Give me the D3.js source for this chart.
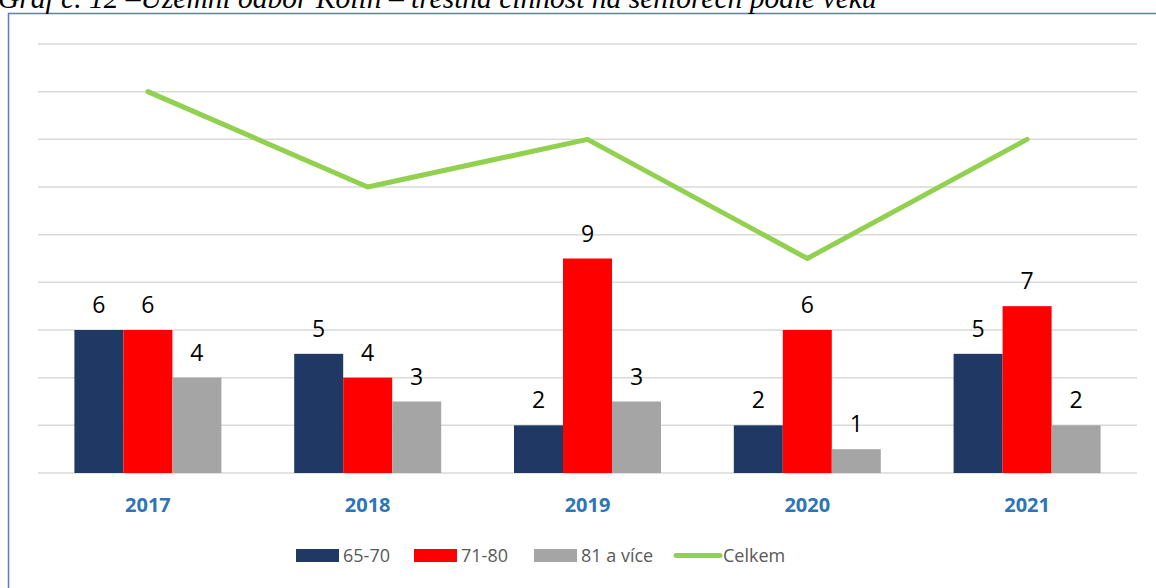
<!DOCTYPE html>
<html>
<head>
<meta charset="utf-8">
<script src="https://cdn.jsdelivr.net/npm/d3@7"></script>
<style>
  body { margin: 0; background: #fff; }
  svg { display: block; }
</style>
</head>
<body>
<div class="chart"></div>
<script>
// data
var years = ["2017", "2018", "2019", "2020", "2021"];
var seriesNames = ["65-70", "71-80", "81 a více"];
var v6570 = [6, 5, 2, 2, 5];
var v7180 = [6, 4, 9, 6, 7];
var v81 = [4, 3, 3, 1, 2];
var celkem = [16, 12, 14, 9, 14];
var yTicks = [0, 2, 4, 6, 8, 10, 12, 14, 16, 18];

var colors = ["#203864", "#ff0000", "#a5a5a5"];
var lineColor = "#92d050";

var width = 1156, height = 588;
var svg = d3.select(".chart").append("svg").attr("width", width).attr("height", height);

// chart frame
svg.append("rect")
    .attr("x", 8.5).attr("y", 13.5)
    .attr("width", 1160).attr("height", 600)
    .attr("fill", "#fff")
    .attr("stroke", "#5b7cc0").attr("stroke-width", 1.5);

// title (clipped at top like the source)
svg.append("text")
    .attr("x", -2).attr("y", 8)
    .attr("font-family", "Liberation Serif, Times New Roman, serif")
    .attr("font-style", "italic")
    .attr("font-size", 29.5)
    .attr("fill", "#000")
    .text("Graf č. 12 –Územní odbor Kolín – trestná činnost na seniorech podle věku");

var plotLeft = 38, plotRight = 1137, plotTop = 44, plotBottom = 473;

var x = d3.scaleBand().domain(years).range([plotLeft, plotRight]);
var y = d3.scaleLinear().domain([0, 18]).range([plotBottom, plotTop]);
var xs = d3.scaleBand().domain(seriesNames).range([0, 147]);
var groupOffset = (x.bandwidth() - 147) / 2;

// gridlines
svg.append("g").selectAll("line").data(yTicks).enter().append("line")
    .attr("x1", plotLeft).attr("x2", plotRight)
    .attr("y1", function(d) { return y(d); })
    .attr("y2", function(d) { return y(d); })
    .attr("stroke", "#d9d9d9").attr("stroke-width", 1.5);

var seriesData = [v6570, v7180, v81];

for (var s = 0; s < seriesData.length; s++) {
    var g = svg.append("g");
    g.selectAll("rect").data(seriesData[s]).enter().append("rect")
        .attr("x", function(d, i) { return x(years[i]) + groupOffset + xs(seriesNames[s]); })
        .attr("y", function(d) { return y(d); })
        .attr("width", xs.bandwidth())
        .attr("height", function(d) { return y(0) - y(d); })
        .attr("fill", colors[s]);
    g.selectAll("text").data(seriesData[s]).enter().append("text")
        .attr("x", function(d, i) { return x(years[i]) + groupOffset + xs(seriesNames[s]) + xs.bandwidth() / 2; })
        .attr("y", function(d) { return y(d) - 17; })
        .attr("text-anchor", "middle")
        .attr("font-family", "Open Sans, sans-serif")
        .attr("font-size", 23)
        .attr("fill", "#000")
        .text(function(d) { return d; });
}

// total line
var line = d3.line()
    .x(function(d, i) { return x(years[i]) + x.bandwidth() / 2; })
    .y(function(d) { return y(d); });
svg.append("path").datum(celkem)
    .attr("d", line)
    .attr("fill", "none")
    .attr("stroke", lineColor).attr("stroke-width", 5)
    .attr("stroke-linecap", "round").attr("stroke-linejoin", "round");

// x axis labels
svg.append("g").selectAll("text").data(years).enter().append("text")
    .attr("x", function(d) { return x(d) + x.bandwidth() / 2; })
    .attr("y", 512)
    .attr("text-anchor", "middle")
    .attr("font-family", "Open Sans, sans-serif")
    .attr("font-weight", "bold")
    .attr("font-size", 20)
    .attr("fill", "#2e75b6")
    .text(function(d) { return d; });

// legend
var legendItems = [
    { name: "65-70", x: 296, color: colors[0], type: "rect" },
    { name: "71-80", x: 414, color: colors[1], type: "rect" },
    { name: "81 a více", x: 534, color: colors[2], type: "rect" },
    { name: "Celkem", x: 676, color: lineColor, type: "line" }
];
var lg = svg.append("g").selectAll("g").data(legendItems).enter().append("g");
lg.filter(function(d) { return d.type == "rect"; }).append("rect")
    .attr("x", function(d) { return d.x; }).attr("y", 549)
    .attr("width", 43).attr("height", 13)
    .attr("fill", function(d) { return d.color; });
lg.filter(function(d) { return d.type == "line"; }).append("line")
    .attr("x1", function(d) { return d.x; }).attr("x2", function(d) { return d.x + 44; })
    .attr("y1", 555.5).attr("y2", 555.5)
    .attr("stroke", function(d) { return d.color; })
    .attr("stroke-width", 5).attr("stroke-linecap", "round");
lg.append("text")
    .attr("x", function(d) { return d.x + 47; })
    .attr("y", 562)
    .attr("font-family", "Open Sans, sans-serif")
    .attr("font-size", 18)
    .attr("fill", "#595959")
    .text(function(d) { return d.name; });
</script>
</body>
</html>
